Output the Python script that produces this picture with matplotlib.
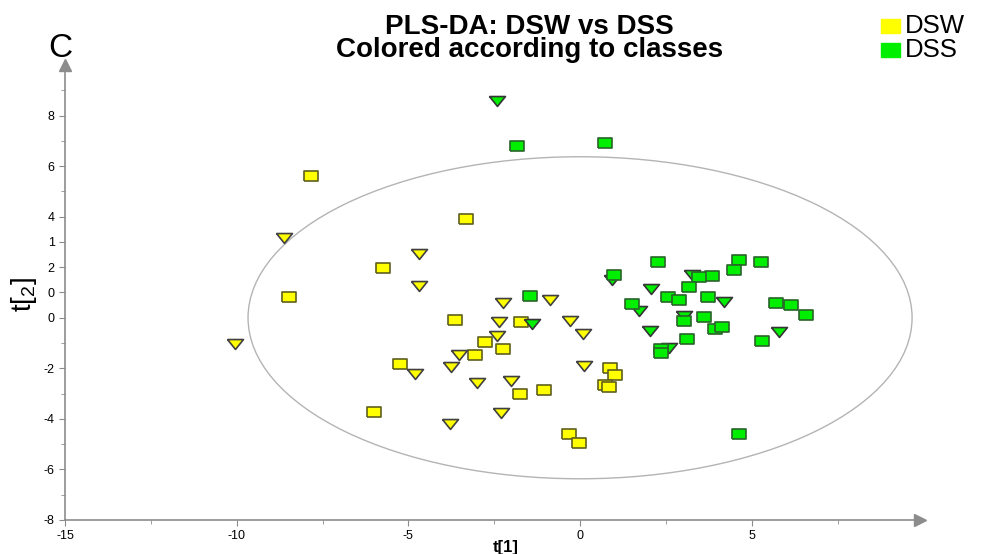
import matplotlib.pyplot as plt
from matplotlib.patches import Ellipse, Rectangle

# t[1]/t[2] scores, split by class and by marker group
dsw_sq_x = [-7.84, -8.48, -3.31, -5.74, -3.64, -1.72, -5.25, -3.06, -2.77, -2.23,
            -1.75, -1.04, -6.0, -0.33, -0.04, 0.87, 1.02, 0.73, 0.85]
dsw_sq_y = [5.59, 0.81, 3.89, 1.96, -0.08, -0.17, -1.82, -1.48, -0.95, -1.25,
            -3.03, -2.87, -3.72, -4.6, -4.94, -1.98, -2.28, -2.65, -2.75]
dsw_tri_x = [-4.69, -4.69, -2.24, -0.87, -2.37, -0.28, 0.09, -2.41, -3.52, -3.76,
             -4.80, 0.12, -3.01, -2.02, -2.30, -3.80, -8.63, -10.05]
dsw_tri_y = [2.53, 1.25, 0.60, 0.69, -0.15, -0.11, -0.64, -0.72, -1.49, -1.96,
             -2.22, -1.92, -2.60, -2.52, -3.76, -4.22, 3.14, -1.03]
dss_sq_x = [-1.83, 0.74, -1.47, 2.28, 1.0, 4.62, 4.48, 5.26, 3.84, 3.47, 3.17, 2.56,
            2.88, 3.73, 1.52, 5.72, 6.15, 6.58, 3.02, 3.60, 3.94, 4.13, 3.10, 5.29,
            2.37, 2.37, 4.63]
dss_sq_y = [6.78, 6.91, 0.86, 2.19, 1.71, 2.27, 1.89, 2.19, 1.67, 1.60, 1.22, 0.81,
            0.69, 0.81, 0.55, 0.57, 0.51, 0.10, -0.13, 0.02, -0.44, -0.36, -0.84, -0.92,
            -1.24, -1.41, -4.60]
dss_tri_x = [-2.41, 0.93, 3.26, 2.07, 4.20, 1.73, 3.03, 2.04, 5.78, 2.60, -1.41]
dss_tri_y = [8.56, 1.48, 1.68, 1.12, 0.62, 0.26, 0.07, -0.53, -0.57, -1.20, -0.26]

x_ticks = [-15, -10, -5, 0, 5]
x_minor = [-12.5, -7.5, -2.5, 2.5, 7.5]
y_ticks = [8, 6, 4, 3, 2, 1, 0, -2, -4, -6, -8]
y_tick_labels = ["8", "6", "4", "1", "2", "0", "0", "-2", "-4", "-6", "-8"]
y_minor = [9, 7, 5, -1, -3, -5, -7]

ell_w, ell_h = 9.67, 6.37  # Hotelling T2 ellipse half-axes

yellow = "#ffff00"
green = "#00ee00"
axis_col = "#8c8c8c"

sq_marker = [(-1, -0.78), (1, -0.78), (1, 0.78), (-1, 0.78), (-1, -0.78)]
tri_marker = [(-1, 0.62), (1, 0.62), (0, -0.62), (-1, 0.62)]

plt.rcParams["font.family"] = ["Liberation Sans", "DejaVu Sans"]
plt.rcParams["axes.unicode_minus"] = False

fig = plt.figure(figsize=(9.81, 5.54), dpi=100)
ax = fig.add_axes([0.0663, 0.0614, 0.8715, 0.8213])
ax.set_xlim(-15, 9.9)
ax.set_ylim(-8, 10.0)

ax.add_patch(Ellipse((0, 0), 2 * ell_w, 2 * ell_h, fill=False,
                     edgecolor="#b4b4b4", lw=1.0, zorder=1))

ax.scatter(dsw_sq_x, dsw_sq_y, s=10 ** 2, marker=sq_marker, c=yellow,
           edgecolors="#5f5f1e", linewidths=1.2, zorder=3)
ax.scatter(dsw_tri_x, dsw_tri_y, s=11.5 ** 2, marker=tri_marker, c=yellow,
           edgecolors="#404040", linewidths=1.2, zorder=4)
ax.scatter(dss_tri_x, dss_tri_y, s=11.5 ** 2, marker=tri_marker, c=green,
           edgecolors="#353535", linewidths=1.2, zorder=5)
ax.scatter(dss_sq_x, dss_sq_y, s=10 ** 2, marker=sq_marker, c=green,
           edgecolors="#2a642a", linewidths=1.2, zorder=6)

# axes drawn as arrows from the lower-left corner
for side in ["top", "right"]:
    ax.spines[side].set_visible(False)
for side in ["left", "bottom"]:
    ax.spines[side].set_color(axis_col)
    ax.spines[side].set_linewidth(1.2)
ax.plot(1, 0, ">", color=axis_col, markersize=9, transform=ax.transAxes,
        clip_on=False)
ax.plot(0, 1, "^", color=axis_col, markersize=9, transform=ax.transAxes,
        clip_on=False)

ax.set_xticks(x_ticks)
ax.set_xticks(x_minor, minor=True)
ax.set_yticks(y_ticks)
ax.set_yticklabels(y_tick_labels)
ax.set_yticks(y_minor, minor=True)
ax.tick_params(which="both", colors=axis_col, labelcolor="black", labelsize=9)
ax.tick_params(which="major", length=4)
ax.tick_params(which="minor", length=3)

ax.set_xlabel("t[1]", fontsize=12, fontweight="bold", labelpad=1)
ax.xaxis.set_label_coords(0.515, -0.045)
ax.set_ylabel(r"$\mathregular{t[_2]}$", fontsize=20)
ax.yaxis.set_label_coords(-0.031, 0.495)

fig.text(0.540, 0.897, "PLS-DA: DSW vs DSS\nColored according to classes",
         ha="center", va="baseline", multialignment="center",
         fontsize=20, fontweight="bold", linespacing=0.86)
fig.text(0.061, 0.897, "C", ha="center", va="baseline", fontsize=24)

# class legend
fig.patches.append(Rectangle((0.8985, 0.940), 0.0185, 0.0255,
                             transform=fig.transFigure, color=yellow))
fig.patches.append(Rectangle((0.8985, 0.897), 0.0185, 0.0255,
                             transform=fig.transFigure, color=green))
fig.text(0.922, 0.940, "DSW", ha="left", va="baseline", fontsize=18.5)
fig.text(0.922, 0.897, "DSS", ha="left", va="baseline", fontsize=18.5)

fig.savefig("out.png", dpi=100)
